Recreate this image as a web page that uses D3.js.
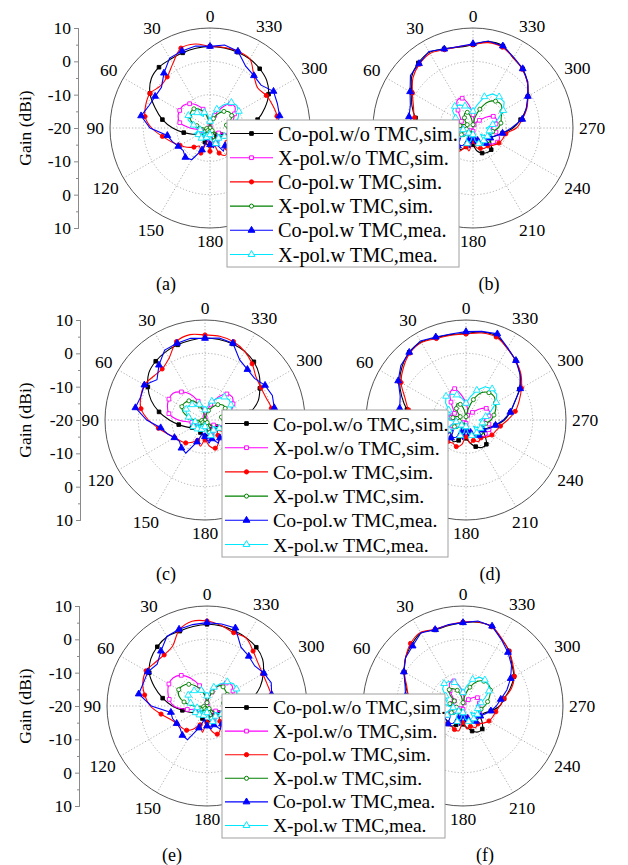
<!DOCTYPE html>
<html>
<head>
<meta charset="utf-8">
<script src="https://cdn.jsdelivr.net/npm/d3@7"></script>
<style>
  body { margin: 0; background: #fff; }
  text { font-family: "Liberation Serif", "Times New Roman", serif; fill: #000; }
</style>
</head>
<body>
<svg id="chart" width="628" height="865"></svg>
<script>
// angles of the samples (deg), 0 at top, counter-clockwise
const angles = d3.range(0, 360, 10);
const angleTicks = [0, 30, 60, 90, 120, 150, 180, 210, 240, 270, 300, 330];
const gridGains = [-10, 0];
const axisTicks = [0, 10, 20, 30, 40, 50, 60];
const axisLabels = ["10", "0", "-10", "-20", "-10", "0", "10"];
const legendLabels = ["Co-pol.w/o TMC,sim.", "X-pol.w/o TMC,sim.", "Co-pol.w TMC,sim.",
  "X-pol.w TMC,sim.", "Co-pol.w TMC,mea.", "X-pol.w TMC,mea."];
const captions = ["(a)", "(b)", "(c)", "(d)", "(e)", "(f)"];

// ---- (a) ----
const aCoWo = [4.5,4.3,4.0,3.8,3.8,3.0,0.8,-2.5,-5.5,-8.8,-12,-14.5,-16,-17,-17,-16.5,-15.5,-15,-14.8,-15,-15.5,-16.5,-17,-17,-16,-14.5,-12,-8.8,-5.5,-2.5,0.3,2.2,3.2,3.9,4.2,4.4];
const aXWo = [-19,-17,-14,-12,-10.5,-9.5,-9.5,-9.8,-10.8,-14,-17,-18,-16.5,-16,-17.5,-19,-20,-19,-20,-18,-16,-15,-16,-18,-17,-15,-14,-14.5,-13.5,-12.5,-11.5,-10.2,-10.5,-13,-16,-19];
const aCoW = [4.5,5.6,5.5,2.3,0.0,-0.5,0.8,0.5,-0.2,-2.5,-5.5,-7.8,-9.6,-11,-12.5,-13.7,-12,-16,-13,-16,-12,-10.6,-12,-14,-11,-7,-3,-0.5,0.4,0,-0.5,-1.3,0.5,3.9,4.5,4.5];
const aXW = [-20,-18,-15,-13.5,-12.5,-12.5,-13,-14,-16,-18,-19,-17,-16,-17,-19,-20,-18,-17,-19,-17,-16,-17,-19,-17,-15,-14,-14,-15,-15,-13.5,-12.5,-12.5,-13.5,-15,-17,-19];
const aCoMea = [4.5,5.0,4.6,4.2,1.5,-1.0,-1.0,-0.5,1.0,-2.0,-7,-8,-9,-9.5,-8.5,-9,-13,-17,-15,-14,-15,-12,-13,-10,-8,-5,-2,0,1.2,1.5,2.0,0,0.5,1.4,4.5,5.3];
const aXMea = [-18,-16,-15,-16,-14,-13.5,-12.5,-13,-15,-16,-17,-15,-16,-18,-16,-18,-17,-19,-18,-16,-15,-14.5,-16,-17,-15,-13,-12,-12.5,-12,-11,-10,-9.5,-10,-12,-14,-16];

// ---- (b) ----
const bCoWo = [5.0,4.6,5.3,6.2,5.5,4.0,1.2,-0.5,-2.5,-5,-8,-11,-13,-14,-13,-12.5,-14,-16,-15,-13,-12,-11.5,-11.5,-13,-14,-13,-11,-8,-5.5,-3,-1,1.3,3.2,4.2,6.2,6.3];
const bXWo = [-16,-13,-10.5,-10.5,-13,-15,-16,-15,-16,-18,-17,-15,-15,-17,-19,-18,-16,-17,-19,-18,-16,-15,-14,-12.5,-11.5,-11.5,-13,-14.5,-13,-12.5,-13,-15,-17,-18,-19,-18];
const bCoW = [5.0,4.8,5.0,5.8,5.0,3.5,1.0,-1.0,-2.2,-4.5,-8,-10,-12,-12,-11.5,-12,-14,-13,-16,-14,-13.5,-13,-13,-12,-11,-10.5,-10,-7,-5,-2.8,-1,1.3,3,4.3,5.8,6.0];
const bXW = [-19,-17,-15,-15,-16,-17,-18,-17,-16,-17,-18,-17,-16,-16,-18,-19,-18,-17,-18,-17,-16,-15,-14,-13.5,-14,-15,-14,-12.5,-11.5,-11,-10,-9,-9.5,-11,-14,-17];
const bCoMea = [5.3,4.8,5.2,6.5,5.2,4.5,1.8,0,-0.5,-3,-7,-10,-13,-15,-13,-14,-16,-14,-17,-15,-16,-15,-14,-15,-14,-13,-11,-8.5,-5,-3,-1,1.5,3.2,4.5,6.2,6.5];
const bXMea = [-15,-14,-13,-12,-11.5,-12,-14,-15,-14,-15,-17,-15,-14,-16,-18,-16,-15,-16,-18,-16,-15,-14,-15,-17,-15,-14,-15,-16,-14,-12,-9.5,-7.8,-7.8,-8.2,-10,-13];

// ---- (c) ----
const cCoWo = [4.6,4.3,4.0,3.6,3.0,2.0,-0.2,-2.8,-6,-9.3,-12,-14,-15.5,-16.5,-17,-16.5,-16,-15.5,-15.2,-15.2,-15.5,-16,-16.5,-16.5,-16,-14,-11.5,-8.8,-6,-3,-1,1.2,2.8,3.8,4.3,4.5];
const cXWo = [-19,-17,-14,-11,-9,-7.5,-7.5,-8,-9,-12,-16,-17.5,-16,-16,-17.5,-19,-20,-19,-20,-18,-16,-15,-16,-18,-17,-15,-14,-14,-12.5,-11.5,-10.3,-9.3,-9.8,-12,-15,-18];
const cCoW = [5.5,6.0,5.0,1.5,0.0,0.3,1.0,0.5,-0.5,-3,-5.8,-8,-9.5,-10.3,-11,-12.3,-13.5,-12,-14,-12,-11,-12,-14,-15,-12,-8,-4,-1,0.2,-0.5,-0.6,0,2,3.8,5.0,5.5];
const cXW = [-20,-18,-15.5,-13.5,-12.5,-12,-12,-13,-15,-17,-19,-17,-16,-17,-19,-20,-18,-17,-19,-17,-16,-17,-19,-17,-15,-14.5,-14,-15,-15,-14,-13,-13,-14,-15.5,-17,-19];
const cCoMea = [4.5,4.9,4.5,4.2,1.5,-1.2,1.0,0.5,1.2,-2.5,-6.5,-8,-9.4,-10,-9,-8.5,-13,-16,-15,-13,-14,-12,-13,-10,-7,-4,-1.5,0.5,1.1,1.5,0.8,-0.6,-0.2,0.8,4.5,5.0];
const cXMea = [-17,-15.5,-15,-15,-14,-13.5,-13.5,-14,-15,-16,-17,-15.5,-16,-18,-16.5,-18,-17,-19,-18,-16,-15,-14.5,-16,-17,-15,-13,-12.5,-13,-12.5,-11.5,-11,-10.5,-11,-12.5,-14,-16];

// ---- (d) ----
const dCoWo = [6.0,6.0,6.3,7.0,6.5,5.0,3.0,0.5,-2,-4.5,-8,-11,-13,-14,-13,-12.5,-13.5,-15,-14.5,-13,-11.5,-10.5,-10.5,-12.5,-14,-13,-11,-8.5,-6.5,-4.5,-1.5,1.2,3.2,4.8,6.8,6.8];
const dXWo = [-15,-12.5,-10,-10.5,-13,-15,-16,-15,-15.5,-17.5,-17,-15,-14.5,-16.5,-19,-18,-16,-17,-19,-18,-16,-14.5,-13.5,-12.5,-12,-12,-13,-14.5,-13,-12.5,-13,-15,-17,-18,-18.5,-17];
const dCoW = [5.8,5.8,6.0,6.8,6.2,4.5,2.5,-0.5,-2.5,-5,-8.5,-11,-12,-12,-11.5,-12,-11.5,-12.5,-15,-13,-13.5,-12.5,-13,-12,-11,-10.5,-9.5,-7.5,-5,-3,-0.8,1.5,3.2,4.8,6.5,6.5];
const dXW = [-19,-17,-15,-14.5,-15.5,-17,-18,-17,-16,-17,-18,-17,-16,-16,-18,-19,-18,-16.5,-18,-17,-16,-15,-14,-13.5,-14,-15,-14,-12.5,-11.5,-10.5,-9.8,-9,-9.3,-10.5,-13.5,-17];
const dCoMea = [6.5,6.2,6.5,7.4,6.5,5.5,3.5,1.0,0.2,-3,-7,-10,-13,-15,-13,-14,-16,-14,-17,-15,-16,-14,-14,-15,-14,-12.5,-11,-8.8,-6.5,-4.5,-1.2,1.2,3.3,5.0,7.5,7.0];
const dXMea = [-15,-13.5,-12,-11,-10.7,-12,-14,-15,-14,-15,-17,-15,-14,-16,-18,-16,-15,-16,-18,-16,-15,-14,-15,-17,-15,-14,-15,-16,-14,-12,-9.5,-8,-7.8,-8.5,-10.5,-13];

// ---- (e) ----
const eCoWo = [4.5,4.2,3.9,4.0,3.2,2.0,0,-3.2,-6.5,-9.6,-12.5,-14.5,-16,-17,-17,-16.5,-16,-15.5,-15.2,-15.2,-15.5,-16,-16.5,-16.5,-16,-14,-11.5,-9,-6,-3,-0.5,1.8,3.0,3.6,4.0,4.4];
const eXWo = [-19,-17,-13.5,-10.5,-8,-6.8,-6.8,-7.5,-8.5,-10,-14,-17,-16,-16,-17.5,-19,-20,-19,-20,-18,-16,-15,-16,-18,-17,-15,-14,-14,-13,-12,-11,-10.3,-11,-13,-15.5,-18];
const eCoW = [5.5,5.8,4.3,0.7,0.0,0.3,1.1,0.5,-1,-3,-6,-8.3,-9.5,-10,-10.5,-12,-14,-12,-15,-12.5,-11,-12,-14,-15,-12,-8,-4,-1,-0.5,-0.8,-0.7,0,1.5,3.5,3.4,4.5];
const eXW = [-19,-17,-15,-13,-11.5,-10.5,-10.2,-11,-13,-16,-19,-17,-16,-17,-19,-20,-18,-17,-19,-17,-16,-17,-19,-17,-15,-14.5,-14,-15,-15,-14,-13,-12.8,-12.5,-13,-15.5,-18];
const eCoMea = [5.0,4.8,4.5,4.1,1.5,-0.5,0.5,0.3,0.8,-3.3,-9,-9,-9.5,-9.5,-8.5,-8.3,-13,-16,-14,-13,-14,-12,-13,-10,-7,-4,-1.5,0.5,-0.3,0.5,-0.3,-1.3,-0.5,0.4,4.9,5.0];
const eXMea = [-17,-15.5,-15,-15,-14,-13.5,-13.5,-14,-15,-16,-17,-15.5,-16,-18,-16.5,-18,-17,-19,-18,-16,-15,-14.5,-16,-17,-15,-13,-12,-12,-11.5,-10.5,-9.8,-9.6,-10.5,-12.5,-14,-16];

// ---- (f) ----
const fCoWo = [5.0,4.5,4.3,5.3,4.0,2.5,0.3,-1.7,-3.5,-6,-9,-11.5,-13,-13.5,-13,-13,-14,-15,-14.5,-13.5,-12,-11,-11,-12.5,-14,-13.5,-11.5,-9,-7.5,-5,-2.4,-0.8,1.5,3.2,5.3,5.5];
const fXWo = [-16,-14,-12,-12,-14,-16,-17,-16,-16.5,-18,-17,-15.5,-15,-17,-19,-18,-16.5,-17,-19,-18,-16.5,-15,-14.5,-14,-14,-14,-15,-16,-15,-14.5,-15,-16,-17.5,-18.5,-19,-18];
const fCoW = [5.2,4.7,4.5,5.5,4.5,2.5,0.4,-2,-3.5,-6,-9,-11,-12,-12.5,-13.1,-13,-12.5,-12.4,-15,-13,-13.5,-12.5,-13,-12,-11,-10.5,-10,-9,-7.5,-4.5,-2.2,-0.5,1.5,3.3,5.3,5.6];
const fXW = [-19,-17,-15,-14,-13.6,-15,-17,-17,-16,-17,-18,-17,-16,-16,-18,-19,-18,-16.5,-18,-17,-16,-15,-14.5,-14,-14.5,-15,-14.5,-13.5,-12.5,-11.5,-10.5,-10,-10.3,-11.5,-14,-17];
const fCoMea = [5.0,4.8,4.4,5.3,3.5,2.5,0.5,-1.5,-2.5,-5,-8,-11,-13,-15,-13,-14,-16,-14,-17,-15,-16,-14,-14,-15,-14,-13,-11.5,-10,-8.5,-6,-3.5,-1,1,3.0,5.5,5.9];
const fXMea = [-16,-14,-12.5,-11.5,-11.2,-12,-14,-15,-14.5,-15.5,-17,-15,-14.5,-16,-18,-16,-15,-16,-18,-16,-15,-14,-15,-17,-15,-14.5,-15.5,-16,-14.5,-13,-11,-10,-9.8,-10,-11.5,-14];

const seriesStyle = [
  { color: "#000000", symbol: d3.symbolSquare, size: 13, filled: true, measured: false },
  { color: "#ff00ff", symbol: d3.symbolSquare, size: 14, filled: false, measured: false },
  { color: "#ff0000", symbol: d3.symbolCircle, size: 14, filled: true, measured: false },
  { color: "#008000", symbol: d3.symbolCircle, size: 13, filled: false, measured: false },
  { color: "#0000ff", symbol: d3.symbolTriangle, size: 20, filled: true, measured: true },
  { color: "#00e8ff", symbol: d3.symbolTriangle, size: 20, filled: false, measured: true }
];

const panelData = [
  [aCoWo, aXWo, aCoW, aXW, aCoMea, aXMea],
  [bCoWo, bXWo, bCoW, bXW, bCoMea, bXMea],
  [cCoWo, cXWo, cCoW, cXW, cCoMea, cXMea],
  [dCoWo, dXWo, dCoW, dXW, dCoMea, dXMea],
  [eCoWo, eXWo, eCoW, eXW, eCoMea, eXMea],
  [fCoWo, fXWo, fCoW, fXW, fCoMea, fXMea]
];

// layout of the three rows
const rows = [
  { cy: 128, lx: 210, rx: 473, axisX: 78, leg: { x: 227, y: 120, w: 232, h: 147, fs: 20.3 }, capY: 290, capX: [166, 489] },
  { cy: 420, lx: 205, rx: 466, axisX: 80, leg: { x: 222, y: 410, w: 226, h: 147, fs: 19.8 }, capY: 580, capX: [166, 490] },
  { cy: 706, lx: 207, rx: 463, axisX: 79, leg: { x: 222, y: 694, w: 223, h: 144, fs: 19.5 }, capY: 861, capX: [172, 485] }
];

const R = 100;
const rScale = d3.scaleLinear().domain([-20, 10]).range([0, R]).clamp(true);
const rad = a => a * Math.PI / 180;

const svg = d3.select("#chart");

function drawPolar(cx, cy, series, leg) {
  const g = svg.append("g").attr("transform", `translate(${cx},${cy})`);

  // dotted grid circles and spokes
  g.selectAll(".grid")
    .data(gridGains)
    .enter().append("circle")
    .attr("r", d => rScale(d))
    .attr("fill", "none")
    .attr("stroke", "#9a9a9a")
    .attr("stroke-width", 0.8)
    .attr("stroke-dasharray", "1.2,2");

  g.selectAll(".spoke")
    .data(angleTicks)
    .enter().append("line")
    .attr("x1", 0).attr("y1", 0)
    .attr("x2", d => -R * Math.sin(rad(d)))
    .attr("y2", d => -R * Math.cos(rad(d)))
    .attr("stroke", "#9a9a9a")
    .attr("stroke-width", 0.8)
    .attr("stroke-dasharray", "1.2,2");

  g.append("circle")
    .attr("r", R)
    .attr("fill", "none")
    .attr("stroke", "#555")
    .attr("stroke-width", 1);

  // angle labels, pushed out by their own size; the ones under the legend are not drawn
  g.selectAll(".alab")
    .data(angleTicks)
    .enter().append("text")
    .attr("text-anchor", "middle")
    .attr("dominant-baseline", "central")
    .attr("font-size", "17.5px")
    .text(d => d)
    .each(function (d) {
      const w = this.getComputedTextLength();
      const s = Math.sin(rad(d)), c = Math.cos(rad(d));
      const dist = 106 + Math.abs(s) * w / 2 + Math.abs(c) * 6.5;
      const x = -dist * s, y = -dist * c;
      d3.select(this).attr("x", x).attr("y", y);
      const ax = cx + x, ay = cy + y;
      if (ax + w / 2 > leg.x && ax - w / 2 < leg.x + leg.w && ay + 7 > leg.y && ay - 7 < leg.y + leg.h) {
        d3.select(this).remove();
      }
    });

  series.forEach((vals, k) => {
    const st = seriesStyle[k];
    const line = d3.lineRadial()
      .angle((d, i) => -rad(angles[i]))
      .radius(d => rScale(d))
      .curve(st.measured ? d3.curveLinearClosed : d3.curveCatmullRomClosed.alpha(0.5));

    g.append("path")
      .attr("d", line(vals))
      .attr("fill", "none")
      .attr("stroke", st.color)
      .attr("stroke-width", 1.1);

    g.selectAll(null)
      .data(vals.map((v, i) => ({ v, a: angles[i] })).filter((d, i) => i % 2 === 0))
      .enter().append("path")
      .attr("d", d3.symbol().type(st.symbol).size(st.size))
      .attr("transform", d => `translate(${-rScale(d.v) * Math.sin(rad(d.a))},${-rScale(d.v) * Math.cos(rad(d.a))})`)
      .attr("fill", st.filled ? st.color : "#fff")
      .attr("stroke", st.color)
      .attr("stroke-width", 0.9);
  });
}

function drawGainAxis(x, cy) {
  const y = d3.scaleLinear().domain([0, 60]).range([cy - R, cy + R]);
  const g = svg.append("g").attr("transform", `translate(${x},0)`);
  g.call(d3.axisLeft(y).tickValues(axisTicks).tickSize(4).tickPadding(3)
    .tickFormat((d, i) => axisLabels[i]));
  g.append("g").call(d3.axisLeft(y).tickValues(axisTicks.slice(0, 6).map(v => v + 5)).tickSize(2).tickFormat(""));
  g.selectAll("path.domain, line").attr("stroke", "#8a8a8a");
  g.selectAll("text").attr("font-size", "17.5px").attr("font-family", "Liberation Serif, serif").attr("fill", "#000");

  svg.append("text")
    .attr("transform", `translate(25,${cy}) rotate(-90)`)
    .attr("text-anchor", "middle")
    .attr("dominant-baseline", "central")
    .attr("font-size", "17.5px")
    .text("Gain (dBi)");
}

function drawLegend(L) {
  const g = svg.append("g").attr("transform", `translate(${L.x},${L.y})`);
  g.append("rect")
    .attr("width", L.w).attr("height", L.h)
    .attr("fill", "#fff")
    .attr("stroke", "#a0a0a0")
    .attr("stroke-width", 1);
  const step = (L.h - 26) / 5;
  legendLabels.forEach((lab, k) => {
    const st = seriesStyle[k];
    const yy = 13.5 + k * step;
    g.append("line")
      .attr("x1", 3).attr("x2", 46).attr("y1", yy).attr("y2", yy)
      .attr("stroke", st.color).attr("stroke-width", 1.1);
    g.append("path")
      .attr("d", d3.symbol().type(st.symbol).size(st.size)())
      .attr("transform", `translate(24.5,${yy})`)
      .attr("fill", st.filled ? st.color : "#fff")
      .attr("stroke", st.color);
    g.append("text")
      .attr("x", 51).attr("y", yy)
      .attr("dominant-baseline", "central")
      .attr("font-size", L.fs + "px")
      .text(lab);
  });
}

rows.forEach((row, r) => {
  drawGainAxis(row.axisX, row.cy);
  drawPolar(row.lx, row.cy, panelData[r * 2], row.leg);
  drawPolar(row.rx, row.cy, panelData[r * 2 + 1], row.leg);
  drawLegend(row.leg);
  [0, 1].forEach(j => {
    svg.append("text")
      .attr("x", row.capX[j]).attr("y", row.capY)
      .attr("text-anchor", "middle")
      .attr("font-size", "18px")
      .text(captions[r * 2 + j]);
  });
});
</script>
</body>
</html>
